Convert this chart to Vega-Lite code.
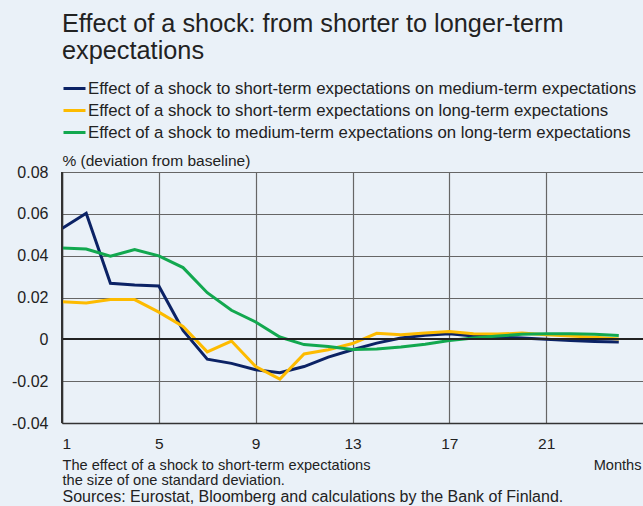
{
  "$schema": "https://vega.github.io/schema/vega-lite/v6.json",
  "width": 581,
  "height": 251,
  "autosize": {"type": "none"},
  "padding": {"left": 62, "top": 172, "right": 0, "bottom": 83},
  "background": "#eaf1f8",
  "config": {
    "font": "Liberation Sans",
    "view": {"stroke": null, "fill": "#eaf1f8"},
    "axis": {"labelFont": "Liberation Sans", "titleFont": "Liberation Sans", "labelColor": "#222", "titleColor": "#222", "titleFontWeight": "normal"}
  },
  "title": {
    "text": ["Effect of a shock: from shorter to longer-term", "expectations"],
    "anchor": "start",
    "frame": "group",
    "fontSize": 25.3,
    "fontWeight": "normal",
    "color": "#222",
    "lineHeight": 27,
    "offset": 12
  },
  "data": {
    "values": [
      {"month": 1, "series": "Effect of a shock to short-term expectations on medium-term expectations", "value": 0.053},
      {"month": 2, "series": "Effect of a shock to short-term expectations on medium-term expectations", "value": 0.0603},
      {"month": 3, "series": "Effect of a shock to short-term expectations on medium-term expectations", "value": 0.0268},
      {"month": 4, "series": "Effect of a shock to short-term expectations on medium-term expectations", "value": 0.026},
      {"month": 5, "series": "Effect of a shock to short-term expectations on medium-term expectations", "value": 0.0255},
      {"month": 6, "series": "Effect of a shock to short-term expectations on medium-term expectations", "value": 0.0043},
      {"month": 7, "series": "Effect of a shock to short-term expectations on medium-term expectations", "value": -0.0095},
      {"month": 8, "series": "Effect of a shock to short-term expectations on medium-term expectations", "value": -0.0115},
      {"month": 9, "series": "Effect of a shock to short-term expectations on medium-term expectations", "value": -0.0145},
      {"month": 10, "series": "Effect of a shock to short-term expectations on medium-term expectations", "value": -0.016},
      {"month": 11, "series": "Effect of a shock to short-term expectations on medium-term expectations", "value": -0.013},
      {"month": 12, "series": "Effect of a shock to short-term expectations on medium-term expectations", "value": -0.0085},
      {"month": 13, "series": "Effect of a shock to short-term expectations on medium-term expectations", "value": -0.005},
      {"month": 14, "series": "Effect of a shock to short-term expectations on medium-term expectations", "value": -0.0018},
      {"month": 15, "series": "Effect of a shock to short-term expectations on medium-term expectations", "value": 0.0006},
      {"month": 16, "series": "Effect of a shock to short-term expectations on medium-term expectations", "value": 0.0019},
      {"month": 17, "series": "Effect of a shock to short-term expectations on medium-term expectations", "value": 0.0027},
      {"month": 18, "series": "Effect of a shock to short-term expectations on medium-term expectations", "value": 0.0016},
      {"month": 19, "series": "Effect of a shock to short-term expectations on medium-term expectations", "value": 0.0011},
      {"month": 20, "series": "Effect of a shock to short-term expectations on medium-term expectations", "value": 0.0006},
      {"month": 21, "series": "Effect of a shock to short-term expectations on medium-term expectations", "value": 0.0},
      {"month": 22, "series": "Effect of a shock to short-term expectations on medium-term expectations", "value": -0.0006},
      {"month": 23, "series": "Effect of a shock to short-term expectations on medium-term expectations", "value": -0.001},
      {"month": 24, "series": "Effect of a shock to short-term expectations on medium-term expectations", "value": -0.0013},
      {"month": 1, "series": "Effect of a shock to short-term expectations on long-term expectations", "value": 0.018},
      {"month": 2, "series": "Effect of a shock to short-term expectations on long-term expectations", "value": 0.0174},
      {"month": 3, "series": "Effect of a shock to short-term expectations on long-term expectations", "value": 0.019},
      {"month": 4, "series": "Effect of a shock to short-term expectations on long-term expectations", "value": 0.019},
      {"month": 5, "series": "Effect of a shock to short-term expectations on long-term expectations", "value": 0.013},
      {"month": 6, "series": "Effect of a shock to short-term expectations on long-term expectations", "value": 0.0062},
      {"month": 7, "series": "Effect of a shock to short-term expectations on long-term expectations", "value": -0.006},
      {"month": 8, "series": "Effect of a shock to short-term expectations on long-term expectations", "value": -0.0008},
      {"month": 9, "series": "Effect of a shock to short-term expectations on long-term expectations", "value": -0.013},
      {"month": 10, "series": "Effect of a shock to short-term expectations on long-term expectations", "value": -0.019},
      {"month": 11, "series": "Effect of a shock to short-term expectations on long-term expectations", "value": -0.007},
      {"month": 12, "series": "Effect of a shock to short-term expectations on long-term expectations", "value": -0.005},
      {"month": 13, "series": "Effect of a shock to short-term expectations on long-term expectations", "value": -0.002},
      {"month": 14, "series": "Effect of a shock to short-term expectations on long-term expectations", "value": 0.0029},
      {"month": 15, "series": "Effect of a shock to short-term expectations on long-term expectations", "value": 0.0022},
      {"month": 16, "series": "Effect of a shock to short-term expectations on long-term expectations", "value": 0.003},
      {"month": 17, "series": "Effect of a shock to short-term expectations on long-term expectations", "value": 0.0038},
      {"month": 18, "series": "Effect of a shock to short-term expectations on long-term expectations", "value": 0.0027},
      {"month": 19, "series": "Effect of a shock to short-term expectations on long-term expectations", "value": 0.0025},
      {"month": 20, "series": "Effect of a shock to short-term expectations on long-term expectations", "value": 0.003},
      {"month": 21, "series": "Effect of a shock to short-term expectations on long-term expectations", "value": 0.0022},
      {"month": 22, "series": "Effect of a shock to short-term expectations on long-term expectations", "value": 0.0016},
      {"month": 23, "series": "Effect of a shock to short-term expectations on long-term expectations", "value": 0.001},
      {"month": 24, "series": "Effect of a shock to short-term expectations on long-term expectations", "value": 0.0002},
      {"month": 1, "series": "Effect of a shock to medium-term expectations on long-term expectations", "value": 0.0437},
      {"month": 2, "series": "Effect of a shock to medium-term expectations on long-term expectations", "value": 0.0432},
      {"month": 3, "series": "Effect of a shock to medium-term expectations on long-term expectations", "value": 0.0397},
      {"month": 4, "series": "Effect of a shock to medium-term expectations on long-term expectations", "value": 0.0429},
      {"month": 5, "series": "Effect of a shock to medium-term expectations on long-term expectations", "value": 0.0399},
      {"month": 6, "series": "Effect of a shock to medium-term expectations on long-term expectations", "value": 0.0343},
      {"month": 7, "series": "Effect of a shock to medium-term expectations on long-term expectations", "value": 0.0223},
      {"month": 8, "series": "Effect of a shock to medium-term expectations on long-term expectations", "value": 0.0139},
      {"month": 9, "series": "Effect of a shock to medium-term expectations on long-term expectations", "value": 0.0083},
      {"month": 10, "series": "Effect of a shock to medium-term expectations on long-term expectations", "value": 0.0011},
      {"month": 11, "series": "Effect of a shock to medium-term expectations on long-term expectations", "value": -0.0025},
      {"month": 12, "series": "Effect of a shock to medium-term expectations on long-term expectations", "value": -0.0034},
      {"month": 13, "series": "Effect of a shock to medium-term expectations on long-term expectations", "value": -0.0049},
      {"month": 14, "series": "Effect of a shock to medium-term expectations on long-term expectations", "value": -0.0046},
      {"month": 15, "series": "Effect of a shock to medium-term expectations on long-term expectations", "value": -0.0037},
      {"month": 16, "series": "Effect of a shock to medium-term expectations on long-term expectations", "value": -0.0024},
      {"month": 17, "series": "Effect of a shock to medium-term expectations on long-term expectations", "value": -0.0006},
      {"month": 18, "series": "Effect of a shock to medium-term expectations on long-term expectations", "value": 0.0006},
      {"month": 19, "series": "Effect of a shock to medium-term expectations on long-term expectations", "value": 0.0016},
      {"month": 20, "series": "Effect of a shock to medium-term expectations on long-term expectations", "value": 0.0024},
      {"month": 21, "series": "Effect of a shock to medium-term expectations on long-term expectations", "value": 0.0027},
      {"month": 22, "series": "Effect of a shock to medium-term expectations on long-term expectations", "value": 0.0027},
      {"month": 23, "series": "Effect of a shock to medium-term expectations on long-term expectations", "value": 0.0024},
      {"month": 24, "series": "Effect of a shock to medium-term expectations on long-term expectations", "value": 0.0018}
    ]
  },
  "resolve": {"axis": {"x": "independent", "y": "independent"}},
  "layer": [
    {
      "mark": {"type": "line", "strokeWidth": 3, "strokeJoin": "miter"},
      "encoding": {
        "x": {
          "field": "month", "type": "quantitative",
          "scale": {"domain": [1, 25], "nice": false, "zero": false},
          "axis": {
            "orient": "bottom",
            "values": [1, 5, 9, 13, 17, 21],
            "grid": true, "gridColor": "#666", "gridWidth": 1.2, "gridOpacity": 1,
            "ticks": false, "domainColor": "#333", "domainWidth": 1.5,
            "labelFontSize": 15.5, "labelPadding": 13,
            "title": ["The effect of a shock to short-term expectations", "the size of one standard deviation."],
            "titleFontSize": 14.6, "titleLineHeight": 15, "titleAlign": "left", "titleAnchor": "start",
            "titleX": 0, "titleY": 34, "titleBaseline": "top"
          }
        },
        "y": {
          "field": "value", "type": "quantitative",
          "scale": {"domain": [-0.04, 0.08], "nice": false},
          "axis": {
            "values": [-0.04, -0.02, 0, 0.02, 0.04, 0.06, 0.08],
            "labelExpr": "datum.value == 0 ? '0' : replace(format(datum.value, '.2f'), '\u2212', '-')",
            "grid": true, "gridColor": "#666", "gridWidth": 1.2, "gridOpacity": 1,
            "ticks": false, "domainColor": "#333", "domainWidth": 1.5,
            "labelFontSize": 16, "labelPadding": 14,
            "title": "% (deviation from baseline)",
            "titleFontSize": 15.5, "titleAngle": 0, "titleAlign": "left", "titleAnchor": "start",
            "titleX": 0, "titleY": -12, "titleBaseline": "middle"
          }
        },
        "color": {
          "field": "series", "type": "nominal",
          "scale": {
            "domain": [
              "Effect of a shock to short-term expectations on medium-term expectations",
              "Effect of a shock to short-term expectations on long-term expectations",
              "Effect of a shock to medium-term expectations on long-term expectations"
            ],
            "range": ["#0b2265", "#fdbb00", "#12a84f"]
          },
          "legend": {
            "orient": "none", "legendX": 0, "legendY": -96,
            "title": null, "symbolType": "stroke", "symbolSize": 484, "symbolStrokeWidth": 3,
            "labelFontSize": 16.8, "labelOffset": 1, "labelLimit": 700, "labelColor": "#222",
            "rowPadding": 0
          }
        }
      }
    },
    {
      "mark": {"type": "rule", "color": "#222", "strokeWidth": 1.5},
      "encoding": {
        "y": {
          "datum": 0,
          "axis": {
            "orient": "right", "labels": false, "ticks": false, "domain": false, "grid": false,
            "title": "Months", "titleFontSize": 14.6, "titleAngle": 0, "titleAlign": "right",
            "titleX": -2, "titleY": 293, "titleBaseline": "middle"
          }
        }
      }
    },
    {
      "mark": {"type": "rule", "color": "#333", "strokeWidth": 1.5},
      "encoding": {
        "x": {
          "datum": 1,
          "axis": {
            "orient": "top", "labels": false, "ticks": false, "domain": false, "grid": false,
            "title": "Sources: Eurostat, Bloomberg and calculations by the Bank of Finland.",
            "titleFontSize": 16, "titleAngle": 0, "titleAlign": "left",
            "titleX": 0, "titleY": 324, "titleBaseline": "middle"
          }
        }
      }
    }
  ]
}
